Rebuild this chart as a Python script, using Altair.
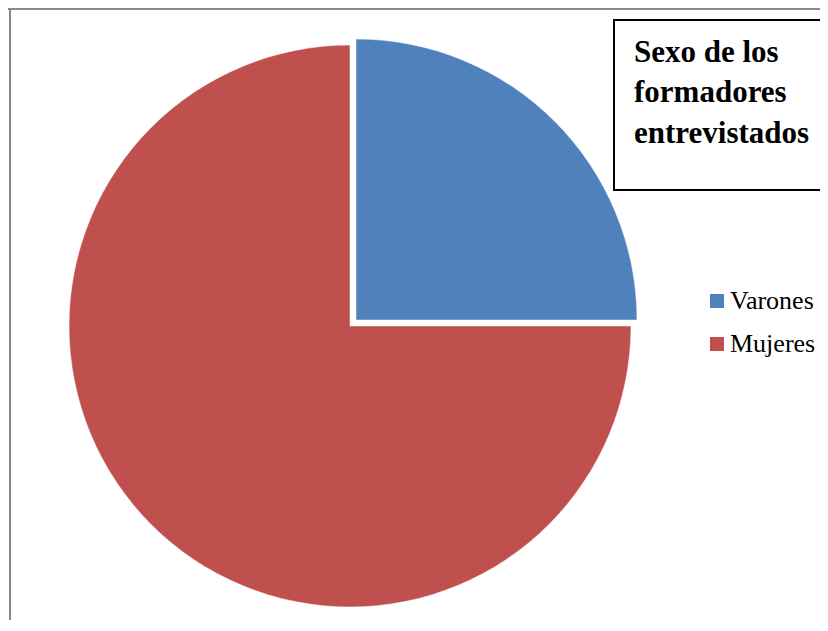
import altair as alt
import pandas as pd
import math

categories = ["Varones", "Mujeres"]
values = [25, 75]
colors = ["#4F81BD", "#C0504D"]
title_lines = ["Sexo de los", "formadores", "entrevistados"]

df = pd.DataFrame({"sexo": categories, "valor": values, "orden": [0, 1]})

W, H = 812, 612
SERIF = "Liberation Serif"

color = alt.Color(
    "sexo:N",
    scale=alt.Scale(domain=categories, range=colors),
    legend=alt.Legend(
        title=None,
        orient="none",
        legendX=696,
        legendY=280,
        symbolType="square",
        symbolSize=196,
        symbolStrokeWidth=0,
        labelFont=SERIF,
        labelFontSize=26,
        labelColor="#000000",
        labelLimit=200,
        rowPadding=17,
        labelOffset=0,
        padding=0,
    ),
)

theta_scale = alt.Scale(domain=[0, 100], range=[0, 2 * math.pi])


def slice_layer(name, cx, cy):
    return (
        alt.Chart(df)
        .transform_stack(stack="valor", groupby=[], as_=["v0", "v1"],
                         sort=[alt.SortField("orden", order="ascending")])
        .transform_filter(alt.datum.sexo == name)
        .mark_arc(radius=281, stroke="white", strokeWidth=0.5)
        .encode(
            theta=alt.Theta("v0:Q", scale=theta_scale),
            theta2="v1:Q",
            color=color,
            x=alt.value(cx),
            y=alt.value(cy),
        )
    )


mujeres = slice_layer("Mujeres", 342, 318)
varones = slice_layer("Varones", 348, 312)

one = alt.Data(values=[{"a": 1}])

left_border = alt.Chart(one).mark_rule(color="#888888", strokeWidth=2).encode(
    x=alt.value(2), y=alt.value(0), y2=alt.value(H)
)
top_border = alt.Chart(one).mark_rule(color="#888888", strokeWidth=2).encode(
    x=alt.value(0), x2=alt.value(W), y=alt.value(1)
)

title_box = alt.Chart(one).mark_rect(fill="white", stroke="black", strokeWidth=2).encode(
    x=alt.value(606), x2=alt.value(W + 10), y=alt.value(12), y2=alt.value(182)
)
title_text = alt.Chart(one).mark_text(
    align="left", baseline="alphabetic", font=SERIF, fontWeight="bold",
    fontSize=31, lineHeight=40.5, color="black"
).encode(
    x=alt.value(626), y=alt.value(53.5), text=alt.value(title_lines)
)

chart = (
    alt.layer(left_border, top_border, mujeres, varones, title_box, title_text)
    .properties(width=W, height=H, padding=0, autosize="none", background="white")
    .configure_view(stroke=None)
)

chart.save("out.html", embed_options={"renderer": "svg", "actions": False})
